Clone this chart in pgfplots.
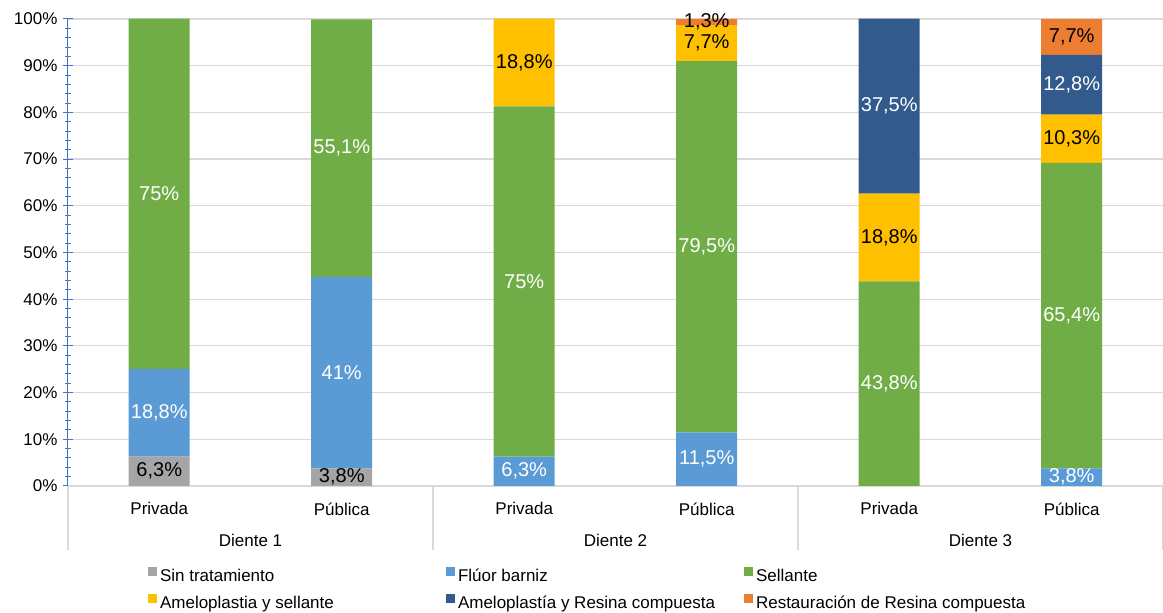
\documentclass[border=0pt]{standalone}
\usepackage{fontspec}
\setmainfont{Liberation Sans}
\usepackage{pgfplots}
\pgfplotsset{compat=1.18}
\usepackage{pgfplotstable}

\definecolor{csin}{HTML}{A5A5A5}
\definecolor{cfluor}{HTML}{5B9BD5}
\definecolor{csell}{HTML}{70AD47}
\definecolor{camel}{HTML}{FFC000}
\definecolor{cresina}{HTML}{335A8D}
\definecolor{crest}{HTML}{ED7D31}
\definecolor{axisblue}{HTML}{4472C4}
\definecolor{gridgray}{HTML}{D9D9D9}

% Porcentaje de cada tratamiento por diente y tipo de consulta
\pgfplotstableread{
x sin fluor sell amel resina rest
0 6.3 18.8 75   0    0    0
1 3.8 41   55.1 0    0    0
2 0   6.3  75   18.8 0    0
3 0   11.5 79.5 7.7  0    1.3
4 0   0    43.8 18.8 37.5 0
5 0   3.8  65.4 10.3 12.8 7.7
}\datos

\newcommand{\lbl}[1]{\makebox[283pt][l]{#1}}

\begin{document}
\begin{tikzpicture}
\path[use as bounding box] (0,0) rectangle (1163pt,613pt);
\begin{axis}[
  at={(68pt,127pt)}, anchor=south west,
  scale only axis, width=1095pt, height=467pt,
  ybar stacked, bar width=61pt,
  xmin=-0.5, xmax=5.5, ymin=0, ymax=100,
  clip=false,
  /pgf/number format/assume math mode=true,
  xtick={0,...,5},
  xticklabels={Privada,Pública,Privada,Pública,Privada,Pública},
  xtick style={draw=none},
  xticklabel style={font=\fontsize{17}{20}\selectfont, yshift=-8pt},
  ytick={0,10,...,100}, minor y tick num=4,
  yticklabel={\pgfmathprintnumber{\tick}\%},
  yticklabel style={font=\fontsize{17}{20}\selectfont, xshift=-2pt},
  scaled y ticks=false,
  axis x line*=bottom, axis y line*=left,
  x axis line style={draw=gridgray, line width=1.2pt},
  y axis line style={draw=axisblue, line width=1pt},
  ytick style={draw=axisblue, line width=1pt},
  minor tick style={draw=axisblue, line width=1pt},
  tick align=center,
  major tick length=10pt, minor tick length=6pt,
  ymajorgrids,
  major grid style={draw=gridgray, line width=1.2pt},
  % etiquetas centradas en cada segmento; los ceros no se rotulan
  nodes near coords={\pgfmathfloatifflags{\pgfplotspointmeta}{0}{}{\pgfmathprintnumber[fixed,precision=1,use comma]{\pgfplotspointmeta}\%}},
  every node near coord/.append style={font=\fontsize{20}{24}\selectfont, anchor=center},
  every axis plot post/.append style={
    legend image code/.code={\fill[##1,draw=none] (0pt,0pt) rectangle (9pt,9pt);}
  },
  legend columns=3,
  legend cell align=left,
  legend style={
    at={(0.0731,-0.174)}, anchor=north west,
    draw=none, fill=none, inner sep=0pt, outer sep=0pt,
    font=\fontsize{17}{20}\selectfont,
    nodes={inner xsep=3pt},
    row sep=9pt,
    /tikz/every even column/.append style={column sep=0pt},
  },
]
\addplot[fill=csin, draw=none, every node near coord/.append style={text=black}]
  table[x=x, y=sin] {\datos};
\addlegendentry{\lbl{Sin tratamiento}}
\addplot[fill=cfluor, draw=none, every node near coord/.append style={text=white}]
  table[x=x, y=fluor] {\datos};
\addlegendentry{\lbl{Flúor barniz}}
\addplot[fill=csell, draw=none, every node near coord/.append style={text=white}]
  table[x=x, y=sell] {\datos};
\addlegendentry{\lbl{Sellante}}
\addplot[fill=camel, draw=none, every node near coord/.append style={text=black}]
  table[x=x, y=amel] {\datos};
\addlegendentry{\lbl{Ameloplastia y sellante}}
\addplot[fill=cresina, draw=none, every node near coord/.append style={text=white}]
  table[x=x, y=resina] {\datos};
\addlegendentry{\lbl{Ameloplastía y Resina compuesta}}
\addplot[fill=crest, draw=none, every node near coord/.append style={text=black}]
  table[x=x, y=rest] {\datos};
\addlegendentry{\lbl{Restauración de Resina compuesta}}

% separadores y nombres de grupo bajo el eje
\draw[gridgray, line width=1.2pt] (axis cs:-0.5,0) -- ++(0pt,-64pt);
\draw[gridgray, line width=1.2pt] (axis cs:1.5,0) -- ++(0pt,-64pt);
\draw[gridgray, line width=1.2pt] (axis cs:3.5,0) -- ++(0pt,-64pt);
\draw[gridgray, line width=1.2pt] (axis cs:5.5,0) -- ++(0pt,-64pt);
\node[font=\fontsize{17}{20}\selectfont, yshift=-54pt] at (axis cs:0.5,0) {Diente 1};
\node[font=\fontsize{17}{20}\selectfont, yshift=-54pt] at (axis cs:2.5,0) {Diente 2};
\node[font=\fontsize{17}{20}\selectfont, yshift=-54pt] at (axis cs:4.5,0) {Diente 3};
\end{axis}
\end{tikzpicture}
\end{document}
